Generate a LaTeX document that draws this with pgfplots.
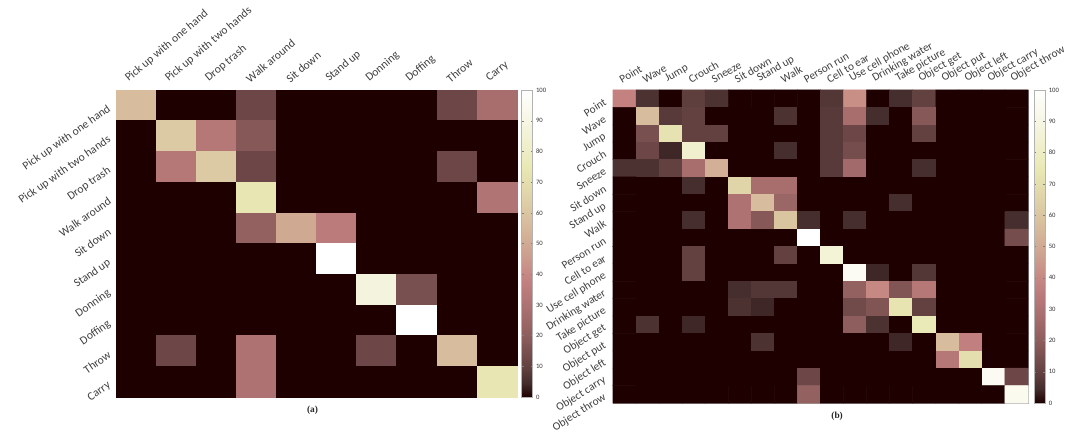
\documentclass[border=0pt]{standalone}
\usepackage{pgfplots}
\pgfplotsset{compat=1.18}
\usepackage{fontspec}
\setmainfont{Carlito}
\newfontfamily\capfont{Liberation Serif}
\pgfplotsset{
  colormap={pinkm}{rgb(0pt)=(0.118,0,0); rgb(45pt)=(0.265,0.173,0.173); rgb(94pt)=(0.382,0.25,0.25); rgb(188pt)=(0.54,0.354,0.354); rgb(280pt)=(0.66,0.432,0.432); rgb(375pt)=(0.764,0.5,0.5); rgb(469pt)=(0.804,0.629,0.559); rgb(563pt)=(0.842,0.736,0.612); rgb(656pt)=(0.878,0.829,0.661); rgb(750pt)=(0.913,0.913,0.707); rgb(875pt)=(0.957,0.957,0.866); rgb(1000pt)=(1,1,1)},
  cm/.style={scale only axis, anchor=south west, colormap name=pinkm,
    point meta min=0, point meta max=100, enlargelimits=false, clip=false,
    axis line style={black!35, line width=0.4pt},
    major tick length=2pt, tick style={black!30},
    xticklabel pos=right,
    colorbar,
    colorbar style={at={(parent axis.north east)}, anchor=north west, width=8.25pt,
      ytick={0,10,...,100}, major tick length=1.5pt, tick style={black!50},
      axis line style={black!30},
      yticklabel style={font=\fontsize{5}{6}\selectfont, text=black!80, xshift=-1pt, /pgf/number format/assume math mode=true}}
  }
}
\begin{document}
\begin{tikzpicture}
\useasboundingbox (0pt,0pt) rectangle (799.5pt,329.25pt);
\begin{axis}[cm,
  at={(87pt,31.5pt)}, width=300.75pt, height=230.25pt,
  xmin=-0.5, xmax=9.5, ymin=-0.5, ymax=9.5,
  xtick={0,...,9}, ytick={0,...,9},
  xticklabels={Pick up with one hand, Pick up with two hands, Drop trash, Walk around, Sit down, Stand up, Donning, Doffing, Throw, Carry},
  yticklabels={Carry, Throw, Doffing, Donning, Stand up, Sit down, Walk around, Drop trash, Pick up with two hands, Pick up with one hand},
  xticklabel style={font=\fontsize{8.7}{10}\selectfont, text=black!75, xshift=-5pt, rotate=40, anchor=south west},
  yticklabel style={font=\fontsize{8.7}{10}\selectfont, text=black!75, xshift=-2pt, rotate=35, anchor=east},
  colorbar style={xshift=-5pt},
]
\addplot[matrix plot*, mesh/cols=10, point meta=explicit]
  table[row sep=\\, x expr={mod(\coordindex,10)}, y expr={9-floor((\coordindex+0.5)/10)}, meta=c] {
c\\
57\\0\\0\\12\\0\\0\\0\\0\\12\\28\\
0\\62\\33\\18\\0\\0\\0\\0\\0\\0\\
0\\33\\62\\12\\0\\0\\0\\0\\12\\0\\
0\\0\\0\\74\\0\\0\\0\\0\\0\\31\\
0\\0\\0\\22\\50\\35\\0\\0\\0\\0\\
0\\0\\0\\0\\0\\100\\0\\0\\0\\0\\
0\\0\\0\\0\\0\\0\\88\\15\\0\\0\\
0\\0\\0\\0\\0\\0\\0\\100\\0\\0\\
0\\12\\0\\30\\0\\0\\12\\0\\57\\0\\
0\\0\\0\\30\\0\\0\\0\\0\\0\\74\\
};
\node[font=\capfont\bfseries\fontsize{7}{8}\selectfont, text=black!85] at (rel axis cs:0.49,0) [yshift=-10pt] {(a)};
\end{axis}
\begin{axis}[cm,
  at={(459.75pt,27pt)}, width=311.25pt, height=234.75pt,
  xmin=-0.5, xmax=17.5, ymin=-0.5, ymax=17.5,
  xtick={0,...,17}, ytick={0,...,17},
  xticklabels={Point, Wave, Jump, Crouch, Sneeze, Sit down, Stand up, Walk, Person run, Cell to ear, Use cell phone, Drinking water, Take picture, Object get, Object put, Object left, Object carry, Object throw},
  yticklabels={Object throw, Object carry, Object left, Object put, Object get, Take picture, Drinking water, Use cell phone, Cell to ear, Person run, Walk, Stand up, Sit down, Sneeze, Crouch, Jump, Wave, Point},
  xticklabel style={font=\fontsize{8.5}{9}\selectfont, text=black!75, xshift=-3pt, rotate=30, anchor=south west},
  yticklabel style={font=\fontsize{8.5}{9}\selectfont, text=black!75, xshift=-3pt, rotate=32, anchor=east},
  colorbar style={xshift=-3.75pt},
]
\addplot[matrix plot*, mesh/cols=18, point meta=explicit]
  table[row sep=\\, x expr={mod(\coordindex,18)}, y expr={17-floor((\coordindex+0.5)/18)}, meta=c] {
c\\
38\\6\\0\\9\\6\\0\\0\\0\\0\\7\\42\\0\\5\\10\\0\\0\\0\\0\\
0\\57\\8\\10\\0\\0\\0\\6\\0\\8\\28\\5\\0\\18\\0\\0\\0\\0\\
0\\15\\72\\10\\10\\0\\0\\0\\0\\8\\12\\0\\0\\10\\0\\0\\0\\0\\
0\\12\\4\\83\\0\\0\\0\\5\\0\\8\\14\\0\\0\\0\\0\\0\\0\\0\\
6\\6\\10\\28\\52\\0\\0\\0\\0\\8\\26\\0\\0\\5\\0\\0\\0\\0\\
0\\0\\0\\5\\0\\66\\28\\28\\0\\0\\0\\0\\0\\0\\0\\0\\0\\0\\
0\\0\\0\\0\\0\\30\\57\\24\\0\\0\\0\\0\\5\\0\\0\\0\\0\\0\\
0\\0\\0\\5\\0\\30\\18\\60\\5\\0\\5\\0\\0\\0\\0\\0\\0\\5\\
0\\0\\0\\0\\0\\0\\0\\0\\100\\0\\0\\0\\0\\0\\0\\0\\0\\14\\
0\\0\\0\\10\\0\\0\\0\\10\\0\\86\\0\\0\\0\\0\\0\\0\\0\\0\\
0\\0\\0\\10\\0\\0\\0\\0\\0\\0\\96\\4\\0\\7\\0\\0\\0\\0\\
0\\0\\0\\0\\0\\5\\7\\7\\0\\0\\22\\40\\17\\33\\0\\0\\0\\0\\
0\\0\\0\\0\\0\\6\\4\\0\\0\\0\\13\\17\\73\\10\\0\\0\\0\\0\\
0\\6\\0\\4\\0\\0\\0\\0\\0\\0\\20\\6\\0\\76\\0\\0\\0\\0\\
0\\0\\0\\0\\0\\0\\6\\0\\0\\0\\0\\0\\4\\0\\57\\37\\0\\0\\
0\\0\\0\\0\\0\\0\\0\\0\\0\\0\\0\\0\\0\\0\\33\\70\\0\\0\\
0\\0\\0\\0\\0\\0\\0\\0\\12\\0\\0\\0\\0\\0\\0\\0\\96\\12\\
0\\0\\0\\0\\0\\0\\0\\0\\22\\0\\0\\0\\0\\0\\0\\0\\0\\94\\
};
\node[font=\capfont\bfseries\fontsize{7}{8}\selectfont, text=black!85] at (rel axis cs:0.54,0) [yshift=-10pt] {(b)};
\end{axis}
\end{tikzpicture}
\end{document}
